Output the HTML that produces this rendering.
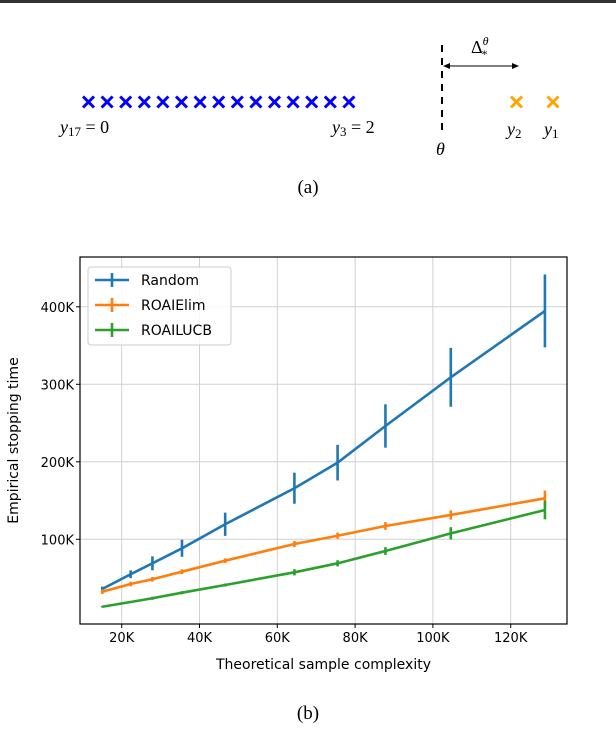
<!DOCTYPE html>
<html><head><meta charset="utf-8"><style>
body{margin:0;background:#fff;width:616px;height:724px;overflow:hidden}
svg text{font-family:"DejaVu Sans",sans-serif}
.ser{font-family:"Liberation Serif",serif;font-style:italic}
</style></head><body>
<svg width="616" height="724">
<rect x="0" y="0" width="616" height="3" fill="#333"/>
<g id="panelA"></g>
<line x1="442" y1="45" x2="442" y2="130" stroke="#000" stroke-width="2" stroke-dasharray="7,6"/>
<line x1="445" y1="66" x2="517" y2="66" stroke="#000" stroke-width="1"/>
<path d="M443,66 l7,-3 v6z M519,66 l-7,-3 v6z" fill="#000"/>
<text x="471" y="53" font-size="18" style="font-family:'Liberation Serif',serif">Δ<tspan font-size="12" dy="-8" font-style="italic">θ</tspan><tspan font-size="12" dx="-7" dy="13">*</tspan></text>
<text x="60" y="133" class="ser" font-size="18">y<tspan font-size="13" font-style="normal" dy="3">17</tspan><tspan dy="-3" font-style="normal"> = 0</tspan></text>
<text x="332" y="133" class="ser" font-size="18">y<tspan font-size="13" font-style="normal" dy="3">3</tspan><tspan dy="-3" font-style="normal"> = 2</tspan></text>
<text x="507" y="135" class="ser" font-size="18">y<tspan font-size="13" font-style="normal" dy="3">2</tspan></text>
<text x="544" y="135" class="ser" font-size="18">y<tspan font-size="13" font-style="normal" dy="3">1</tspan></text>
<text x="436" y="155" class="ser" font-size="18">θ</text>
<text x="308" y="193" font-size="19" text-anchor="middle" style="font-family:'Liberation Serif',serif">(a)</text>
<g id="chart"></g>
<text x="308" y="719" font-size="19" text-anchor="middle" style="font-family:'Liberation Serif',serif">(b)</text>
</svg>
<script>
const xs=[15,22.3,27.9,35.5,46.6,64.4,75.5,87.8,104.6,128.8];
const randomY=[35.9,54.9,69,88.4,119.4,165.9,198.9,246.2,309,394.6];
const randomErr=[3,5,9,11,15,20,23,28,38,47];
const elimY=[32.4,42.3,48.4,58.2,72.4,93.9,104.6,117.2,131.4,152.9];
const elimErr=[3,3,3,3,3,4,4,5,6,10];
const ucbY=[13,19.1,23.9,31.1,41,57.4,69,84.9,107.7,137.8];
const ucbErr=[1,1,2,2,2,4,4,5,8,12];
const xTicks=[20,40,60,80,100,120];
const yTicks=[100,200,300,400];
const NS='http://www.w3.org/2000/svg';
function mk(t,a,p){const e=document.createElementNS(NS,t);for(const k in a)e.setAttribute(k,a[k]);p.appendChild(e);return e;}
const pa=document.getElementById('panelA');
for(let i=0;i<17;i++){
  const blue=i<15;const cx=blue?88.5+i*18.6:(i==15?516.5:553);
  const g=mk('path',{d:`M${cx-5.5},${96.5} l11,11 M${cx+5.5},96.5 l-11,11`,stroke:blue?'#0000ff':'#ffa500','stroke-width':3},pa);
  
  
}
const L=80,R=567,T=257,B=624;
const X=v=>43.9+v*3.89, Y=v=>616.8-v*0.775;
const c=document.getElementById('chart');
xTicks.forEach(t=>{
  const l=mk('line',{x1:X(t),x2:X(t),y1:T,y2:B,stroke:'#d0d0d0','stroke-width':1},c);
  
  mk('line',{x1:X(t),x2:X(t),y1:B,y2:B+4,stroke:'#000'},c);
  const tx=mk('text',{x:X(t),y:B+18,'font-size':13,'text-anchor':'middle'},c);tx.textContent=t+'K';
  
});
yTicks.forEach(t=>{
  const l=mk('line',{x1:L,x2:R,y1:Y(t),y2:Y(t),stroke:'#d0d0d0','stroke-width':1},c);
  
  mk('line',{x1:L-4,x2:L,y1:Y(t),y2:Y(t),stroke:'#000'},c);
  const tx=mk('text',{x:L-6,y:Y(t)+5,'font-size':13,'text-anchor':'end'},c);tx.textContent=t+'K';
  
});
const series=[[randomY,randomErr,'#1f77b4','Random'],[elimY,elimErr,'#ff7f0e','ROAIElim'],[ucbY,ucbErr,'#2ca02c','ROAILUCB']];
series.forEach(([ys,es,col,name])=>{
  const p=mk('polyline',{points:xs.map((x,i)=>X(x)+','+Y(ys[i])).join(' '),fill:'none',stroke:col,'stroke-width':2.6},c);
  
  xs.forEach((x,i)=>{
    const e=mk('line',{x1:X(x),x2:X(x),y1:Y(ys[i]-es[i]),y2:Y(ys[i]+es[i]),stroke:col,'stroke-width':2.6},c);
    
  });
});
const fr=mk('rect',{x:L,y:T,width:R-L,height:B-T,fill:'none',stroke:'#000','stroke-width':1.2},c);

const lg=mk('rect',{x:88,y:267,width:143,height:78,rx:3,fill:'#fff','fill-opacity':0.85,stroke:'#ccc'},c);

series.forEach(([,,col,name],i)=>{
  const y=280+i*25;
  mk('line',{x1:95,x2:129,y1:y,y2:y,stroke:col,'stroke-width':2.6},c);
  mk('line',{x1:112,x2:112,y1:y-7,y2:y+7,stroke:col,'stroke-width':2.6},c);
  const t=mk('text',{x:141,y:y+5,'font-size':14},c);t.textContent=name;
  
});
const xl=mk('text',{x:(L+R)/2,y:669,'font-size':14,'text-anchor':'middle'},c);xl.textContent='Theoretical sample complexity';

const yl=mk('text',{x:0,y:0,'font-size':14,'text-anchor':'middle',transform:`translate(18,${(T+B)/2}) rotate(-90)`},c);yl.textContent='Empirical stopping time';

</script>
</body></html>
